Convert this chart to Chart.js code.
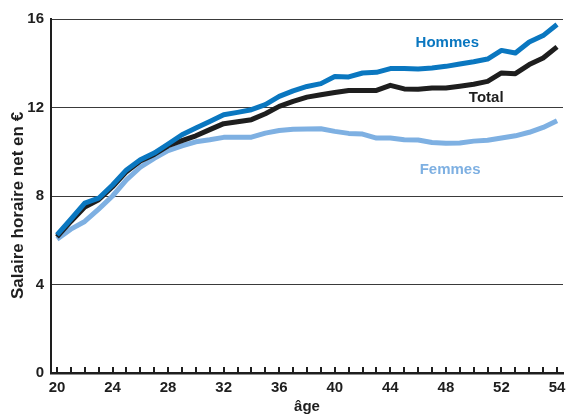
<!DOCTYPE html>
<html>
<head>
<meta charset="utf-8">
<script src="https://cdn.jsdelivr.net/npm/chart.js@4.4.0/dist/chart.umd.min.js"></script>
<style>
  html, body { margin: 0; padding: 0; background: #ffffff; }
  #wrap { width: 572px; height: 416px; position: relative; }
</style>
</head>
<body>
<div id="wrap"><canvas id="c" width="572" height="416"></canvas></div>
<script>
// Tick positions along the age axis (one per year)
const ages = [20,21,22,23,24,25,26,27,28,29,30,31,32,33,34,35,36,37,38,39,40,41,42,43,44,45,46,47,48,49,50,51,52,53,54,55,56];
// Labels printed under every fourth tick (as in the reference)
const xTickLabels = ['20','24','28','32','36','40','44','48','52','54'];
const yTickValues = [0, 4, 8, 12, 16];

const hommes = [6.24,6.95,7.68,7.9,8.5,9.18,9.64,9.94,10.35,10.77,11.07,11.37,11.67,11.78,11.9,12.13,12.5,12.75,12.95,13.08,13.4,13.38,13.56,13.59,13.76,13.76,13.74,13.79,13.86,13.97,14.07,14.19,14.58,14.46,14.96,15.25,15.75];
const total  = [6.15,6.85,7.5,7.83,8.42,9.1,9.58,9.88,10.27,10.5,10.72,11.0,11.27,11.36,11.45,11.72,12.05,12.28,12.47,12.58,12.68,12.77,12.77,12.77,13.0,12.84,12.82,12.88,12.88,12.96,13.05,13.18,13.56,13.53,13.94,14.24,14.74];
const femmes = [6.05,6.5,6.85,7.41,8.0,8.73,9.3,9.7,10.05,10.27,10.45,10.54,10.65,10.66,10.66,10.84,10.96,11.02,11.03,11.04,10.92,10.83,10.8,10.62,10.62,10.54,10.53,10.42,10.38,10.4,10.48,10.52,10.62,10.72,10.88,11.1,11.4];

const seriesNames = ['Hommes', 'Total', 'Femmes'];

const C_H = '#0a77c0';
const C_T = '#1e1e1e';
const C_F = '#7eb0e2';
const FONT = "'Liberation Sans', Arial, sans-serif";

const seriesLabels = {
  id: 'seriesLabels',
  afterDatasetsDraw(chart) {
    const xs = chart.scales.x, ys = chart.scales.y, ctx = chart.ctx;
    const spots = [
      { text: seriesNames[0], x: 48.1, y: 14.93, color: C_H },
      { text: seriesNames[1], x: 50.9, y: 12.44, color: C_T },
      { text: seriesNames[2], x: 48.3, y: 9.19, color: C_F }
    ];
    ctx.save();
    ctx.font = "bold 15px " + FONT;
    ctx.textAlign = 'center';
    ctx.textBaseline = 'middle';
    spots.forEach(s => {
      ctx.fillStyle = s.color;
      ctx.fillText(s.text, xs.getPixelForValue(s.x), ys.getPixelForValue(s.y));
    });
    ctx.restore();
  },
  afterDraw(chart) {
    // inward tick marks on the age axis, one per year
    const xs = chart.scales.x, ys = chart.scales.y, ctx = chart.ctx;
    const base = Math.round(ys.getPixelForValue(0));
    ctx.save();
    ctx.fillStyle = '#1e1e1e';
    for (let i = 0; i < ages.length; i++) {
      const px = Math.round(xs.getPixelForValue(ages[i]));
      ctx.fillRect(px - 1, base - 6, 2, 6);
    }
    ctx.restore();
  }
};

const mk = (label, data, color) => ({
  label, data, borderColor: color, backgroundColor: color,
  borderWidth: 5, pointRadius: 0, tension: 0, fill: false,
  borderJoinStyle: 'round', borderCapStyle: 'butt'
});

new Chart(document.getElementById('c'), {
  type: 'line',
  data: {
    labels: ages,
    datasets: [
      mk(seriesNames[0], hommes, C_H),
      mk(seriesNames[1], total, C_T),
      mk(seriesNames[2], femmes, C_F)
    ]
  },
  options: {
    responsive: false,
    animation: false,
    devicePixelRatio: 1,
    layout: { padding: { top: 19, right: 9, left: 0, bottom: 0 } },
    plugins: { legend: { display: false }, tooltip: { enabled: false } },
    scales: {
      x: {
        type: 'linear',
        min: 19.57, max: 56.43,
        afterBuildTicks: s => { s.ticks = ages.map(v => ({ value: v })); },
        afterFit: s => { s.height = 43; },
        grid: { display: false, drawTicks: false },
        border: { display: true, color: '#1e1e1e', width: 2.5 },
        ticks: {
          autoSkip: false, maxRotation: 0, padding: 6,
          color: '#1e1e1e',
          font: { family: FONT, size: 15, weight: 'bold' },
          callback: v => ((v - 20) % 4 === 0 ? xTickLabels[(v - 20) / 4] : '')
        },
        title: {
          display: true, text: 'âge', color: '#1e1e1e',
          font: { family: FONT, size: 15, weight: 'bold' },
          padding: { top: 0, bottom: 0 }
        }
      },
      y: {
        min: 0, max: 16,
        afterBuildTicks: s => { s.ticks = yTickValues.map(v => ({ value: v })); },
        afterFit: s => { s.width = 51; },
        grid: { color: '#3a3a3a', lineWidth: 1, drawTicks: false },
        border: { display: true, color: '#1e1e1e', width: 2 },
        ticks: {
          padding: 7, color: '#1e1e1e',
          font: { family: FONT, size: 15, weight: 'bold' }
        },
        title: {
          display: true, text: 'Salaire horaire net en €    ', color: '#1e1e1e',
          font: { family: FONT, size: 17, weight: 'bold' },
          padding: { top: 8, bottom: 0 }
        }
      }
    }
  },
  plugins: [seriesLabels]
});
</script>
</body>
</html>
